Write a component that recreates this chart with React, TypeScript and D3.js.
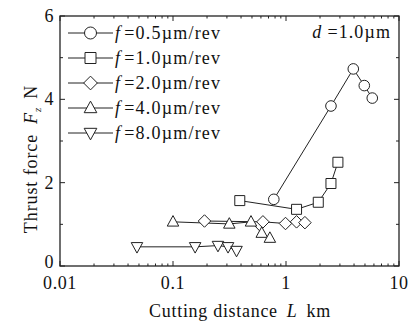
import { useEffect, useRef } from 'react';
import * as d3 from 'd3';

// Cutting distance L (km) and thrust force Fz (N) per feed rate
const feedLabels = ['0.5', '1.0', '2.0', '4.0', '8.0'];
const markerKinds = ['circle', 'square', 'diamond', 'triUp', 'triDown'];

const distF05 = [0.78, 2.5, 3.94, 4.93, 5.8];
const forceF05 = [1.6, 3.84, 4.73, 4.33, 4.03];

const distF10 = [0.39, 1.24, 1.93, 2.5, 2.88];
const forceF10 = [1.57, 1.36, 1.53, 1.98, 2.49];

const distF20 = [0.19, 0.625, 0.99, 1.24, 1.47];
const forceF20 = [1.08, 1.06, 1.02, 1.06, 1.04];

const distF40 = [0.1, 0.315, 0.49, 0.61, 0.72];
const forceF40 = [1.06, 1.01, 1.06, 0.79, 0.67];

const distF80 = [0.048, 0.157, 0.25, 0.307, 0.365];
const forceF80 = [0.46, 0.46, 0.49, 0.46, 0.37];

const xTicks = [0.01, 0.1, 1, 10];
const xTickLabels = ['0.01', '0.1', '1', '10'];
const yTicks = [0, 2, 4, 6];

const seriesDist = [distF05, distF10, distF20, distF40, distF80];
const seriesForce = [forceF05, forceF10, forceF20, forceF40, forceF80];

const FONT = '"Liberation Serif", "Times New Roman", serif';

function markerPath(kind: string, s: number) {
  switch (kind) {
    case 'square':
      return `M${-s},${-s}H${s}V${s}H${-s}Z`;
    case 'diamond':
      return `M0,${-s * 1.25}L${s * 1.25},0L0,${s * 1.25}L${-s * 1.25},0Z`;
    case 'triUp':
      return `M0,${-s * 1.25}L${s * 1.15},${s * 0.85}L${-s * 1.15},${s * 0.85}Z`;
    case 'triDown':
      return `M0,${s * 1.25}L${s * 1.15},${-s * 0.85}L${-s * 1.15},${-s * 0.85}Z`;
    default:
      return '';
  }
}

export default function App() {
  const svgRef = useRef<SVGSVGElement>(null);
  const width = 417;
  const height = 323;

  useEffect(() => {
    if (!svgRef.current) return;
    const svg = d3.select(svgRef.current);
    svg.selectAll('*').remove();

    const left = 60, right = 399, top = 16, bottom = 266;

    const x = d3.scaleLog().domain([0.01, 10]).range([left, right]);
    const y = d3.scaleLinear().domain([0, 6]).range([bottom, top]);

    const ink = '#222';

    // minor/major ticks, inward, on all four sides
    const ticks = svg.append('g').attr('stroke', ink).attr('stroke-width', 1);
    const minorX: number[] = [];
    [0.01, 0.1, 1].forEach(dec => {
      for (let k = 2; k <= 9; k++) minorX.push(dec * k);
    });
    minorX.forEach(v => {
      ticks.append('line').attr('x1', x(v)).attr('x2', x(v)).attr('y1', bottom).attr('y2', bottom - 2.5);
      ticks.append('line').attr('x1', x(v)).attr('x2', x(v)).attr('y1', top).attr('y2', top + 2.5);
    });
    xTicks.forEach(v => {
      ticks.append('line').attr('x1', x(v)).attr('x2', x(v)).attr('y1', bottom).attr('y2', bottom - 5);
      ticks.append('line').attr('x1', x(v)).attr('x2', x(v)).attr('y1', top).attr('y2', top + 5);
    });
    d3.range(0, 7).forEach(v => {
      const len = v % 2 === 0 ? 5 : 3;
      ticks.append('line').attr('x1', left).attr('x2', left + len).attr('y1', y(v)).attr('y2', y(v));
      ticks.append('line').attr('x1', right).attr('x2', right - len).attr('y1', y(v)).attr('y2', y(v));
    });

    // frame
    svg.append('rect')
      .attr('x', left).attr('y', top)
      .attr('width', right - left).attr('height', bottom - top)
      .attr('fill', 'none').attr('stroke', ink).attr('stroke-width', 1.3);

    // tick labels
    const labels = svg.append('g')
      .style('font-family', FONT).style('font-size', '18px')
      .style('letter-spacing', '0.6px').attr('fill', '#111');
    xTicks.forEach((v, i) => {
      labels.append('text').attr('x', x(v)).attr('y', 289)
        .attr('text-anchor', 'middle').text(xTickLabels[i]);
    });
    yTicks.forEach(v => {
      labels.append('text').attr('x', 54).attr('y', v === 0 ? y(v) + 2 : y(v) + 6)
        .attr('text-anchor', 'end').text(String(v));
    });

    // axis titles
    const xt = svg.append('text').attr('x', 240).attr('y', 317)
      .attr('text-anchor', 'middle')
      .style('font-family', FONT).style('font-size', '18px')
      .style('letter-spacing', '0.7px').attr('fill', '#111');
    xt.append('tspan').text('Cutting distance');
    xt.append('tspan').attr('dx', 9).style('font-style', 'italic').text('L');
    xt.append('tspan').attr('dx', 9).text('km');

    const yt = svg.append('text')
      .attr('transform', `translate(37,159) rotate(-90)`)
      .attr('text-anchor', 'middle')
      .style('font-family', FONT).style('font-size', '18px')
      .style('letter-spacing', '0.9px').attr('fill', '#111');
    yt.append('tspan').text('Thrust force');
    yt.append('tspan').attr('dx', 10).style('font-style', 'italic').text('F');
    yt.append('tspan').style('font-style', 'italic').style('font-size', '11px').attr('dy', 4).text('z');
    yt.append('tspan').attr('dy', -4).attr('dx', 8).text('N');

    // series
    const line = d3.line<[number, number]>().x(d => x(d[0])).y(d => y(d[1]));
    const plot = svg.append('g');
    seriesDist.forEach((dist, si) => {
      const pts = dist.map((d, j) => [d, seriesForce[si][j]] as [number, number]);
      plot.append('path').datum(pts)
        .attr('d', line).attr('fill', 'none').attr('stroke', ink).attr('stroke-width', 1);
    });
    seriesDist.forEach((dist, si) => {
      const kind = markerKinds[si];
      dist.forEach((d, j) => {
        const cx = x(d), cy = y(seriesForce[si][j]);
        if (kind === 'circle') {
          plot.append('circle').attr('cx', cx).attr('cy', cy).attr('r', 5.3)
            .attr('fill', 'white').attr('stroke', ink).attr('stroke-width', 1);
        } else {
          plot.append('path').attr('d', markerPath(kind, 5))
            .attr('transform', `translate(${cx},${cy})`)
            .attr('fill', 'white').attr('stroke', ink).attr('stroke-width', 1);
        }
      });
    });

    // legend
    const lg = svg.append('g');
    feedLabels.forEach((lab, i) => {
      const ly = 33 + i * 25;
      lg.append('line').attr('x1', 68).attr('x2', 113).attr('y1', ly).attr('y2', ly)
        .attr('stroke', ink).attr('stroke-width', 1);
      const kind = markerKinds[i];
      if (kind === 'circle') {
        lg.append('circle').attr('cx', 90.5).attr('cy', ly).attr('r', 6)
          .attr('fill', 'white').attr('stroke', ink);
      } else {
        lg.append('path').attr('d', markerPath(kind, 5.5))
          .attr('transform', `translate(90.5,${ly})`)
          .attr('fill', 'white').attr('stroke', ink);
      }
      const t = lg.append('text').attr('x', 115).attr('y', ly + 6)
        .style('font-family', FONT).style('font-size', '18px')
        .style('letter-spacing', '1.2px').attr('fill', '#111');
      t.append('tspan').style('font-style', 'italic').text('f');
      t.append('tspan').attr('dx', 3).text(`=${lab}\u00b5m/rev`);
    });

    const dt = svg.append('text').attr('x', 391).attr('y', 38).attr('text-anchor', 'end')
      .style('font-family', FONT).style('font-size', '18px')
      .style('letter-spacing', '1.1px').attr('fill', '#111');
    dt.append('tspan').style('font-style', 'italic').text('d');
    dt.append('tspan').attr('dx', 5).text('=1.0\u00b5m');
  }, []);

  return (
    <svg ref={svgRef} width={width} height={height}
      style={{ position: 'absolute', left: 0, top: 0, background: 'white' }} />
  );
}
